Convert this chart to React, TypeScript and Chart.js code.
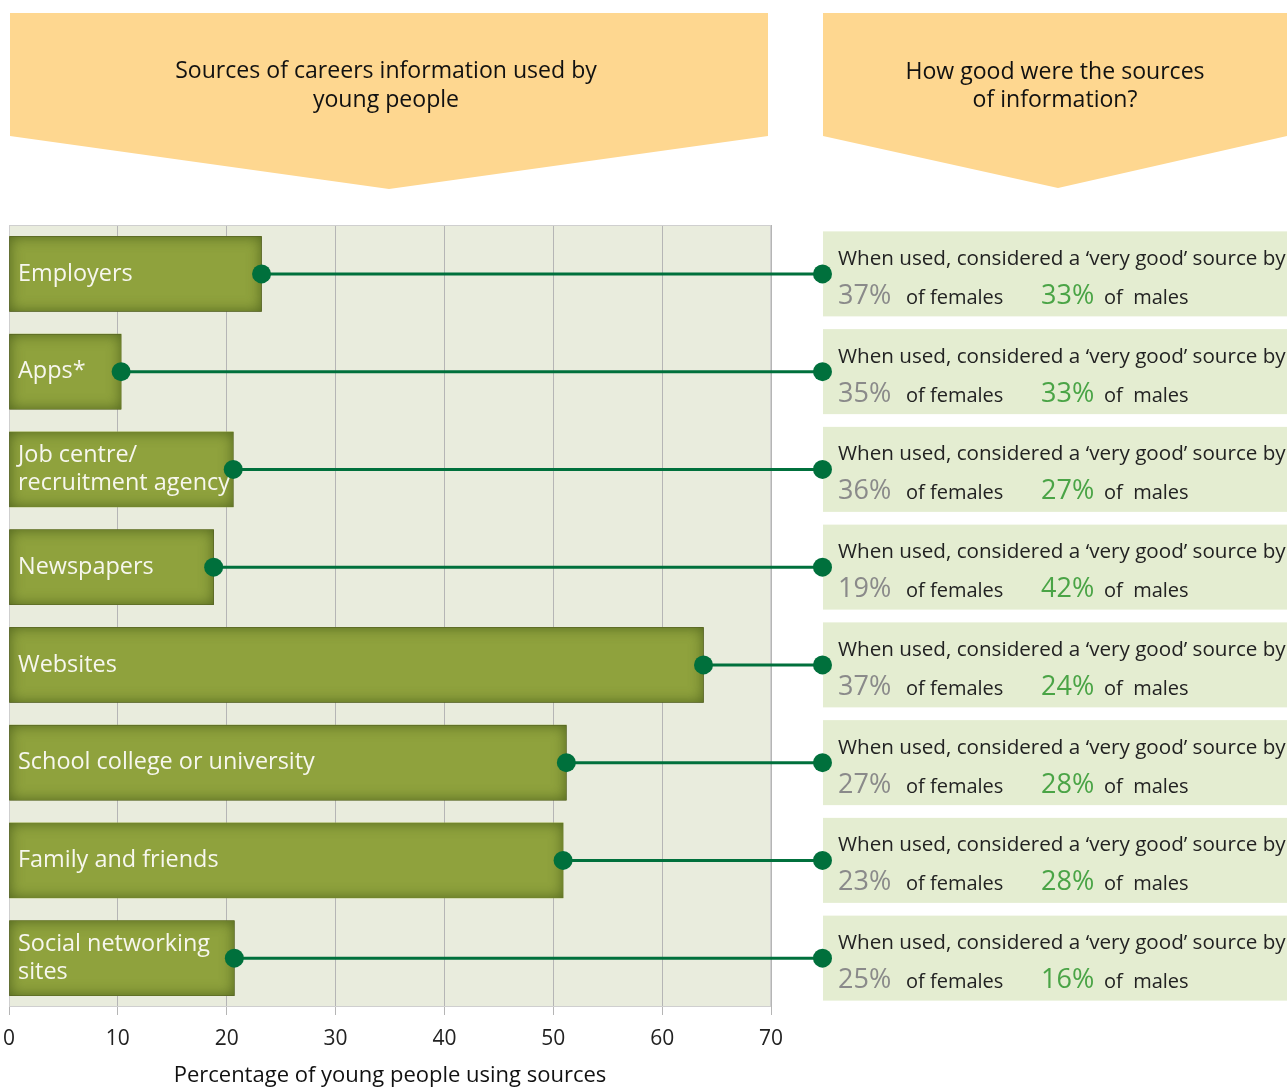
import React, { useEffect, useRef } from 'react';
import { Chart, registerables } from 'chart.js';

Chart.register(...registerables);

const categories: string[][] = [
  ['Employers'],
  ['Apps*'],
  ['Job centre/', 'recruitment agency'],
  ['Newspapers'],
  ['Websites'],
  ['School college or university'],
  ['Family and friends'],
  ['Social networking', 'sites'],
];
const usagePct = [23.2, 10.3, 20.6, 18.8, 63.8, 51.2, 50.9, 20.7];
const femalesVeryGood = [37, 35, 36, 19, 37, 27, 23, 25];
const malesVeryGood = [33, 33, 27, 42, 24, 28, 28, 16];
const xMin = 0;
const xMax = 70;
const xStep = 10;
const leftHeading = ['Sources of careers information used by', 'young people'];
const rightHeading = ['How good were the sources', 'of information?'];
const axisTitle = 'Percentage of young people using sources';
const panelIntro = 'When used, considered a \u2018very good\u2019 source by';
const femaleSuffix = 'of females';
const maleSuffix = 'of  males';

const FONT = '"Open Sans", Lato, sans-serif';
const BANNER = '#fed790';
const PLOT_BG = '#e9ecdd';
const PANEL_BG = '#e4edd1';
const BAR = '#8fa23d';
const LINK = '#00703c';

function poly(ctx: CanvasRenderingContext2D, pts: number[][]) {
  ctx.beginPath();
  pts.forEach((p, i) => (i ? ctx.lineTo(p[0], p[1]) : ctx.moveTo(p[0], p[1])));
  ctx.closePath();
  ctx.fill();
}

function fitFont(ctx: CanvasRenderingContext2D, text: string, width: number, base = 20) {
  ctx.font = `${base}px ${FONT}`;
  const w = ctx.measureText(text).width;
  return (base * width) / w;
}

const decor = {
  id: 'decor',
  beforeDraw(chart: any) {
    const { ctx, chartArea: a } = chart;
    ctx.save();
    ctx.fillStyle = BANNER;
    poly(ctx, [[10, 13], [768, 13], [768, 136], [389, 189], [10, 136]]);
    poly(ctx, [[823, 13], [1287, 13], [1287, 136], [1058, 188], [823, 136]]);
    ctx.fillStyle = '#111';
    const hs = fitFont(ctx, leftHeading[0], 422);
    ctx.font = `${hs}px ${FONT}`;
    ctx.textAlign = 'center';
    ctx.textBaseline = 'middle';
    leftHeading.forEach((t, i) => ctx.fillText(t, 386, 71 + i * 29));
    rightHeading.forEach((t, i) => ctx.fillText(t, 1055, 72 + i * 28));
    ctx.fillStyle = PLOT_BG;
    ctx.fillRect(a.left, a.top, a.right - a.left, a.bottom - a.top);
    ctx.restore();
  },
  beforeDatasetsDraw(chart: any) {
    const { ctx, chartArea: a } = chart;
    ctx.save();
    ctx.strokeStyle = '#cfcfcf';
    ctx.lineWidth = 1;
    ctx.strokeRect(a.left + 0.5, a.top + 0.5, a.right - a.left - 1, a.bottom - a.top - 1);
    ctx.restore();
  },
  afterDatasetsDraw(chart: any) {
    const { ctx } = chart;
    const meta = chart.getDatasetMeta(0);
    const rightDotX = 822.5;
    ctx.save();
    const labelSize = fitFont(ctx, 'School college or university', 297);
    const introSize = fitFont(ctx, panelIntro, 448);
    meta.data.forEach((bar: any, i: number) => {
      const { x, y, base, height } = bar.getProps(['x', 'y', 'base', 'height'], true);
      const l = Math.min(x, base);
      const w = Math.abs(x - base);
      const t = y - height / 2;
      // inner shadow
      ctx.save();
      ctx.beginPath();
      ctx.rect(l, t, w, height);
      ctx.clip();
      ctx.beginPath();
      ctx.rect(l - 60, t - 60, w + 120, height + 120);
      ctx.rect(l, t, w, height);
      ctx.shadowColor = 'rgba(70,90,25,0.85)';
      ctx.shadowBlur = 14;
      ctx.fillStyle = '#000';
      ctx.fill('evenodd');
      ctx.restore();

      // label
      const lines = chart.data.labels[i] as string[];
      ctx.fillStyle = '#f7f7ee';
      ctx.font = `${labelSize}px ${FONT}`;
      ctx.textAlign = 'left';
      ctx.textBaseline = 'middle';
      const lh = 28;
      lines.forEach((s: string, k: number) => {
        ctx.fillText(s, 18, y + (k - (lines.length - 1) / 2) * lh);
      });

      // connector
      ctx.strokeStyle = LINK;
      ctx.lineWidth = 3;
      ctx.beginPath();
      ctx.moveTo(x, y);
      ctx.lineTo(rightDotX, y);
      ctx.stroke();
      ctx.fillStyle = LINK;
      ctx.beginPath();
      ctx.arc(x, y, 9.5, 0, Math.PI * 2);
      ctx.fill();

      // panel
      ctx.fillStyle = PANEL_BG;
      ctx.fillRect(823, y - 42.5, 1287 - 823, 85);
      ctx.beginPath();
      ctx.fillStyle = LINK;
      ctx.arc(rightDotX, y, 9.5, 0, Math.PI * 2);
      ctx.fill();

      ctx.textBaseline = 'alphabetic';
      ctx.font = `${introSize}px ${FONT}`;
      ctx.fillStyle = '#222';
      ctx.fillText(panelIntro, 838, y - 9);

      const by = y + 30;
      ctx.font = `27px ${FONT}`;
      ctx.fillStyle = '#8a8a8a';
      ctx.fillText(`${femalesVeryGood[i]}%`, 838, by);
      ctx.font = `20px ${FONT}`;
      ctx.fillStyle = '#222';
      ctx.fillText(femaleSuffix, 906, by);
      ctx.font = `27px ${FONT}`;
      ctx.fillStyle = '#4aa446';
      ctx.fillText(`${malesVeryGood[i]}%`, 1041, by);
      ctx.font = `20px ${FONT}`;
      ctx.fillStyle = '#222';
      ctx.fillText(maleSuffix, 1104, by);
    });
    ctx.restore();
  },
};

export default function App() {
  const ref = useRef<HTMLCanvasElement | null>(null);
  useEffect(() => {
    if (!ref.current) return;
    const chart = new Chart(ref.current, {
      type: 'bar',
      data: {
        labels: categories as any,
        datasets: [
          {
            data: usagePct,
            backgroundColor: BAR,
            borderWidth: 0,
            barThickness: 75,
          },
        ],
      },
      options: {
        indexAxis: 'y',
        animation: false,
        responsive: true,
        maintainAspectRatio: false,
        layout: { padding: { left: 9, right: 516, top: 225, bottom: 0 } },
        plugins: { legend: { display: false }, tooltip: { enabled: false }, title: { display: false } },
        scales: {
          x: {
            type: 'linear',
            min: xMin,
            max: xMax,
            afterFit: (scale: any) => {
              scale.height = 82;
              scale.paddingLeft = 0;
              scale.paddingRight = 0;
            },
            ticks: {
              stepSize: xStep,
              color: '#222',
              font: { family: FONT, size: 21 },
              padding: 11,
            },
            grid: { color: '#b5b5b5', lineWidth: 1, drawTicks: true, tickLength: 8 },
            border: { display: false },
            title: {
              display: true,
              text: axisTitle,
              color: '#111',
              font: { family: FONT, size: 22 },
              padding: { top: 0, bottom: 0 },
            },
          },
          y: { display: false },
        },
      },
      plugins: [decor],
    });
    return () => chart.destroy();
  }, []);
  return (
    <div style={{ position: 'absolute', left: 0, top: 0, width: 1287, height: 1089 }}>
      <canvas ref={ref} />
    </div>
  );
}
